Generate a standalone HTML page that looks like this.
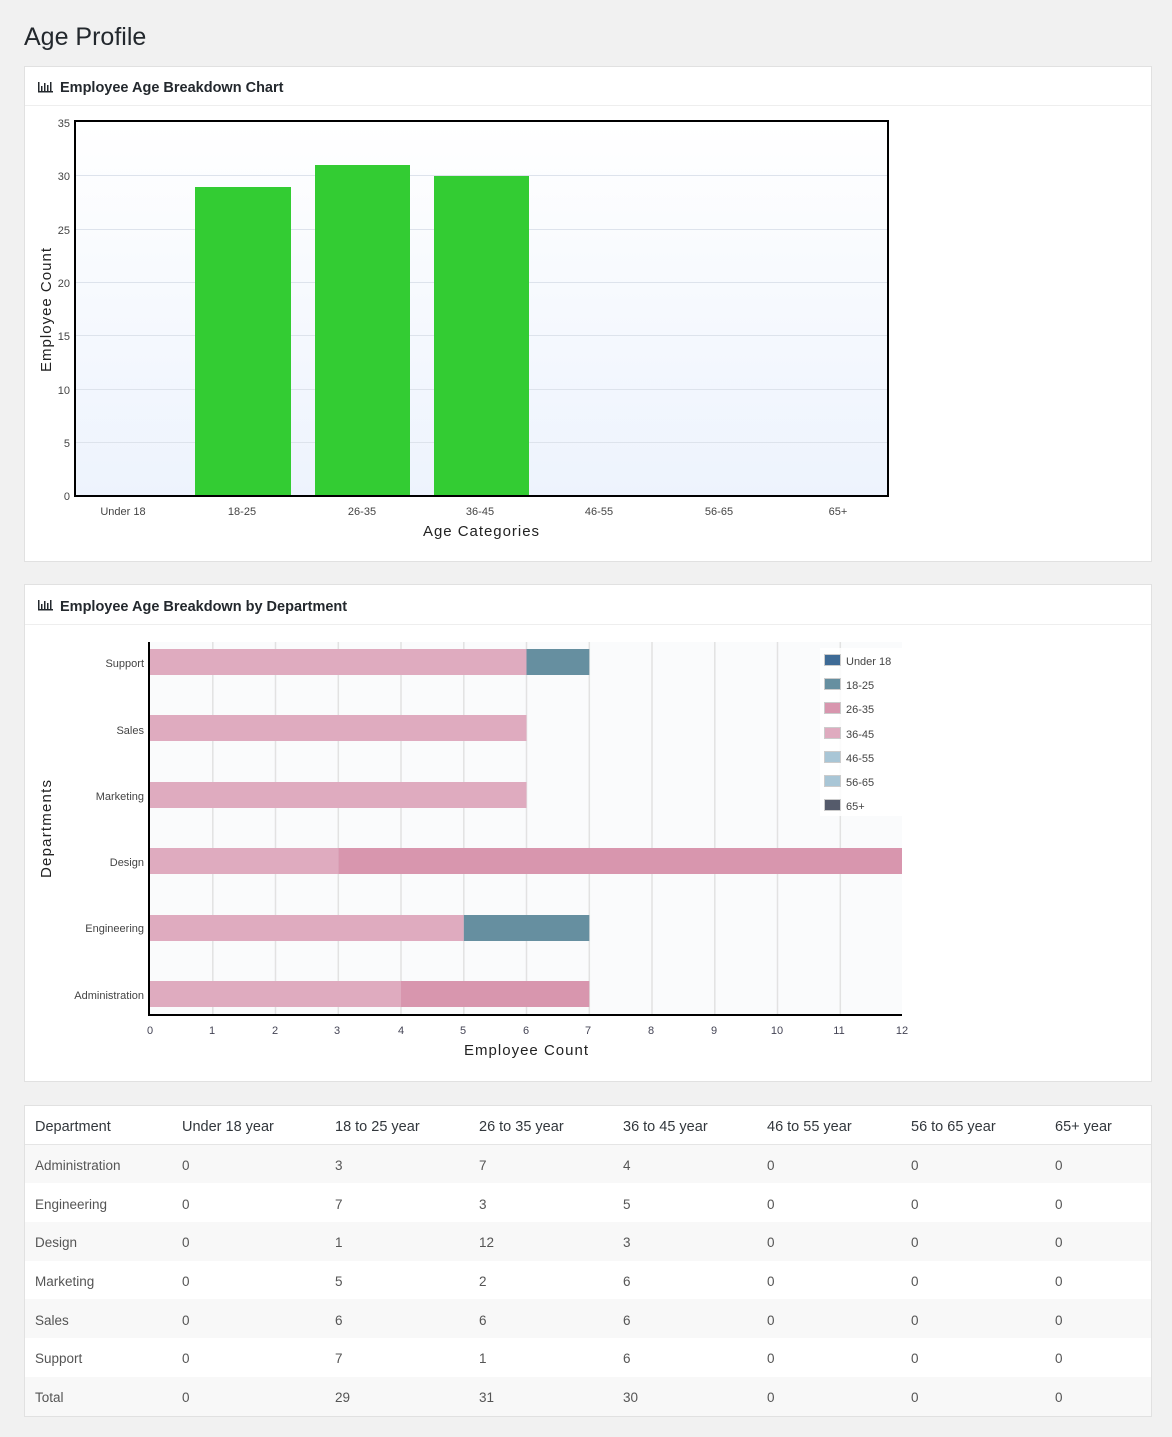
<!DOCTYPE html>
<html><head><meta charset="utf-8"><style>
html,body{margin:0;padding:0;background:#f1f1f1;}
svg{display:block;font-family:"Liberation Sans",sans-serif;}
</style></head><body>
<svg width="1172" height="1437" viewBox="0 0 1172 1437" xmlns="http://www.w3.org/2000/svg">
<defs>
<linearGradient id="g1" x1="0" y1="0" x2="0" y2="1"><stop offset="0" stop-color="#ffffff"/><stop offset="1" stop-color="#edf3fd"/></linearGradient>
</defs>
<rect width="1172" height="1437" fill="#f1f1f1"/>
<text x="24" y="45" font-size="25" fill="#23282d">Age Profile</text>

<!-- Card 1 -->
<rect x="24.5" y="66.5" width="1127" height="495" fill="#fff" stroke="#e1e1e1"/>
<line x1="25" y1="105.5" x2="1151" y2="105.5" stroke="#eeeeee"/>
<g fill="#23282d"><rect x="38" y="82" width="1.5" height="10"/><rect x="38" y="91" width="15" height="1.5"/><rect x="41" y="86" width="1.5" height="5"/><rect x="44" y="83" width="1.5" height="8"/><rect x="47" y="85" width="1.5" height="6"/><rect x="50" y="82" width="1.5" height="9"/></g>
<text x="60" y="92" font-size="14.5" font-weight="bold" fill="#23282d">Employee Age Breakdown Chart</text>

<rect x="76" y="122" width="812" height="374" fill="url(#g1)"/>
<g stroke="#dde3ec" stroke-width="1">
<line x1="76" x2="888" y1="442.5" y2="442.5"/><line x1="76" x2="888" y1="389.5" y2="389.5"/><line x1="76" x2="888" y1="335.5" y2="335.5"/><line x1="76" x2="888" y1="282.5" y2="282.5"/><line x1="76" x2="888" y1="229.5" y2="229.5"/><line x1="76" x2="888" y1="175.5" y2="175.5"/>
</g>
<rect x="195" y="187" width="96" height="309" fill="#33cc33"/>
<rect x="315" y="165" width="95" height="331" fill="#33cc33"/>
<rect x="434" y="176" width="95" height="320" fill="#33cc33"/>
<rect x="75" y="121" width="813" height="375" fill="none" stroke="#000" stroke-width="2"/>
<g font-size="11" fill="#444" text-anchor="end">
<text x="70" y="127">35</text><text x="70" y="180">30</text><text x="70" y="234">25</text><text x="70" y="287">20</text><text x="70" y="340">15</text><text x="70" y="394">10</text><text x="70" y="447">5</text><text x="70" y="500">0</text>
</g>
<g font-size="11" fill="#444" text-anchor="middle">
<text x="123" y="515">Under 18</text><text x="242" y="515">18-25</text><text x="362" y="515">26-35</text><text x="480" y="515">36-45</text><text x="599" y="515">46-55</text><text x="719" y="515">56-65</text><text x="838" y="515">65+</text>
</g>
<text x="481" y="536" font-size="15" fill="#222" text-anchor="middle" textLength="116">Age Categories</text>
<text transform="translate(51,310) rotate(-90)" font-size="15" fill="#222" text-anchor="middle" textLength="124">Employee Count</text>

<!-- Card 2 -->
<rect x="24.5" y="584.5" width="1127" height="497" fill="#fff" stroke="#e1e1e1"/>
<line x1="25" y1="624.5" x2="1151" y2="624.5" stroke="#eeeeee"/>
<g fill="#23282d"><rect x="38" y="600" width="1.5" height="10"/><rect x="38" y="609" width="15" height="1.5"/><rect x="41" y="604" width="1.5" height="5"/><rect x="44" y="601" width="1.5" height="8"/><rect x="47" y="603" width="1.5" height="6"/><rect x="50" y="600" width="1.5" height="9"/></g>
<text x="60" y="611" font-size="14.5" font-weight="bold" fill="#23282d">Employee Age Breakdown by Department</text>

<rect x="150" y="642" width="752" height="373" fill="#fafbfc"/>
<g stroke="#e2e2e2" stroke-width="1.5">
<line x1="212.8" x2="212.8" y1="642" y2="1015"/><line x1="275.5" x2="275.5" y1="642" y2="1015"/><line x1="338.3" x2="338.3" y1="642" y2="1015"/><line x1="401" x2="401" y1="642" y2="1015"/><line x1="463.8" x2="463.8" y1="642" y2="1015"/><line x1="526.5" x2="526.5" y1="642" y2="1015"/><line x1="589.3" x2="589.3" y1="642" y2="1015"/><line x1="652" x2="652" y1="642" y2="1015"/><line x1="714.8" x2="714.8" y1="642" y2="1015"/><line x1="777.5" x2="777.5" y1="642" y2="1015"/><line x1="840.3" x2="840.3" y1="642" y2="1015"/>
</g>
<rect x="150" y="649" width="376.5" height="26" fill="#dfabbf"/><rect x="526.5" y="649" width="62.8" height="26" fill="#668fa0"/>
<rect x="150" y="715" width="376.5" height="26" fill="#dfabbf"/>
<rect x="150" y="782" width="376.5" height="26" fill="#dfabbf"/>
<rect x="150" y="848" width="188.3" height="26" fill="#dfabbf"/><rect x="338.3" y="848" width="563.7" height="26" fill="#d896ae"/>
<rect x="150" y="915" width="313.8" height="26" fill="#dfabbf"/><rect x="463.8" y="915" width="125.5" height="26" fill="#668fa0"/>
<rect x="150" y="981" width="251" height="26" fill="#dfabbf"/><rect x="401" y="981" width="188.3" height="26" fill="#d896ae"/>
<line x1="149" y1="642" x2="149" y2="1016" stroke="#000" stroke-width="2"/>
<line x1="148" y1="1015" x2="902" y2="1015" stroke="#000" stroke-width="2"/>
<g font-size="11" fill="#444" text-anchor="end">
<text x="144" y="667">Support</text><text x="144" y="734">Sales</text><text x="144" y="800">Marketing</text><text x="144" y="866">Design</text><text x="144" y="932">Engineering</text><text x="144" y="999">Administration</text>
</g>
<g font-size="11" fill="#445" text-anchor="middle">
<text x="150" y="1034">0</text><text x="212" y="1034">1</text><text x="275" y="1034">2</text><text x="337" y="1034">3</text><text x="401" y="1034">4</text><text x="463" y="1034">5</text><text x="526" y="1034">6</text><text x="588" y="1034">7</text><text x="651" y="1034">8</text><text x="714" y="1034">9</text><text x="777" y="1034">10</text><text x="839" y="1034">11</text><text x="902" y="1034">12</text>
</g>
<text x="526" y="1055" font-size="15" fill="#222" text-anchor="middle" textLength="124">Employee Count</text>
<text transform="translate(51,829) rotate(-90)" font-size="15" fill="#222" text-anchor="middle" textLength="98">Departments</text>
<rect x="820" y="648" width="82" height="168" fill="#fff" opacity="0.85"/>
<g stroke="#ccc" stroke-width="1">
<rect x="824.5" y="654.5" width="16" height="11" fill="#3f6b96"/>
<rect x="824.5" y="678.5" width="16" height="11" fill="#668fa0"/>
<rect x="824.5" y="702.5" width="16" height="11" fill="#d896ae"/>
<rect x="824.5" y="727.5" width="16" height="11" fill="#dfabbf"/>
<rect x="824.5" y="751.5" width="16" height="11" fill="#a9c6d6"/>
<rect x="824.5" y="775.5" width="16" height="11" fill="#a9c6d6"/>
<rect x="824.5" y="799.5" width="16" height="11" fill="#555b6b"/>
</g>
<g font-size="11" fill="#444">
<text x="846" y="665">Under 18</text><text x="846" y="689">18-25</text><text x="846" y="713">26-35</text><text x="846" y="738">36-45</text><text x="846" y="762">46-55</text><text x="846" y="786">56-65</text><text x="846" y="810">65+</text>
</g>

<!-- Table -->
<rect x="24.5" y="1105.5" width="1127" height="311" fill="#fff" stroke="#e1e1e1"/>
<line x1="25" y1="1144.5" x2="1151" y2="1144.5" stroke="#e5e5e5"/>
<rect x="25" y="1145" width="1126" height="38" fill="#f8f8f8"/>
<rect x="25" y="1222" width="1126" height="39" fill="#f8f8f8"/>
<rect x="25" y="1299" width="1126" height="39" fill="#f8f8f8"/>
<rect x="25" y="1377" width="1126" height="39" fill="#f8f8f8"/>
<g font-size="14.5" fill="#32373c">
<text x="35" y="1131">Department</text><text x="182" y="1131">Under 18 year</text><text x="335" y="1131">18 to 25 year</text><text x="479" y="1131">26 to 35 year</text><text x="623" y="1131">36 to 45 year</text><text x="767" y="1131">46 to 55 year</text><text x="911" y="1131">56 to 65 year</text><text x="1055" y="1131">65+ year</text>
</g>
<g font-size="13.5" fill="#555">
<g transform="translate(0,1170)"><text x="35">Administration</text><text x="182">0</text><text x="335">3</text><text x="479">7</text><text x="623">4</text><text x="767">0</text><text x="911">0</text><text x="1055">0</text></g>
<g transform="translate(0,1209)"><text x="35">Engineering</text><text x="182">0</text><text x="335">7</text><text x="479">3</text><text x="623">5</text><text x="767">0</text><text x="911">0</text><text x="1055">0</text></g>
<g transform="translate(0,1247)"><text x="35">Design</text><text x="182">0</text><text x="335">1</text><text x="479">12</text><text x="623">3</text><text x="767">0</text><text x="911">0</text><text x="1055">0</text></g>
<g transform="translate(0,1286)"><text x="35">Marketing</text><text x="182">0</text><text x="335">5</text><text x="479">2</text><text x="623">6</text><text x="767">0</text><text x="911">0</text><text x="1055">0</text></g>
<g transform="translate(0,1325)"><text x="35">Sales</text><text x="182">0</text><text x="335">6</text><text x="479">6</text><text x="623">6</text><text x="767">0</text><text x="911">0</text><text x="1055">0</text></g>
<g transform="translate(0,1363)"><text x="35">Support</text><text x="182">0</text><text x="335">7</text><text x="479">1</text><text x="623">6</text><text x="767">0</text><text x="911">0</text><text x="1055">0</text></g>
<g transform="translate(0,1402)"><text x="35">Total</text><text x="182">0</text><text x="335">29</text><text x="479">31</text><text x="623">30</text><text x="767">0</text><text x="911">0</text><text x="1055">0</text></g>
</g>
</svg>
</body></html>
